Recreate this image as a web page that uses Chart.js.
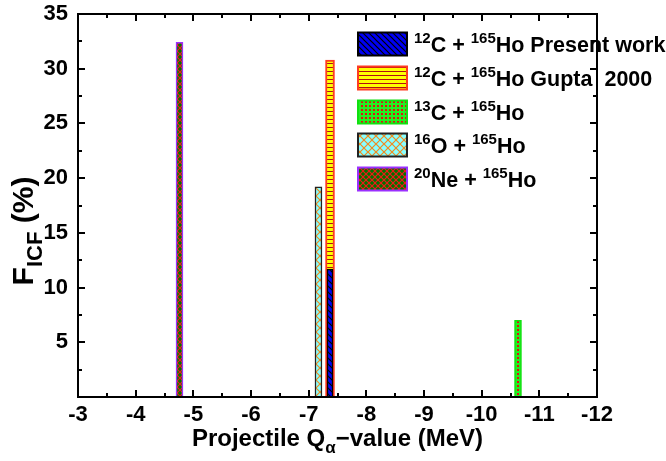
<!DOCTYPE html>
<html>
<head>
<meta charset="utf-8">
<script src="https://cdn.jsdelivr.net/npm/chart.js@4.4.0/dist/chart.umd.min.js"></script>
<style>
  html, body { margin: 0; padding: 0; background: #fff; }
  #wrap { width: 666px; height: 461px; }
</style>
</head>
<body>
<div id="wrap"><canvas id="chart" width="666" height="461"></canvas></div>
<script>
// projectile Q-alpha values (MeV) and incomplete fusion fractions (%)
var seriesLabels = [
    "^{12}C + ^{165}Ho Present work",
    "^{12}C + ^{165}Ho Gupta  2000",
    "^{13}C + ^{165}Ho",
    "^{16}O + ^{165}Ho",
    "^{20}Ne + ^{165}Ho"
];
var qValues = [-7.37, -7.37, -10.63, -7.17, -4.76];
var icfFractions = [11.7, 30.8, 7.0, 19.2, 32.4];
var xTicks = [-3, -4, -5, -6, -7, -8, -9, -10, -11, -12];
var yTicks = [5, 10, 15, 20, 25, 30, 35];

var FONT = '"Liberation Sans", Arial, sans-serif';

// small canvas patterns for the hatched bars
function makePattern(size, bg, paint) {
    var c = document.createElement("canvas");
    c.width = size;
    c.height = size;
    var g = c.getContext("2d");
    g.fillStyle = bg;
    g.fillRect(0, 0, size, size);
    paint(g, size);
    return g.createPattern(c, "repeat");
}

function diag(g, s, dir) {
    g.beginPath();
    if (dir > 0) {
        g.moveTo(-1, -1); g.lineTo(s + 1, s + 1);
        g.moveTo(-1, s - 1); g.lineTo(1, s + 1);
        g.moveTo(s - 1, -1); g.lineTo(s + 1, 1);
    } else {
        g.moveTo(-1, s + 1); g.lineTo(s + 1, -1);
        g.moveTo(-1, 1); g.lineTo(1, -1);
        g.moveTo(s - 1, s + 1); g.lineTo(s + 1, s - 1);
    }
    g.stroke();
}

var fills = [
    makePattern(6, "#0000f4", function (g, s) {
        g.strokeStyle = "#000"; g.lineWidth = 1.2; diag(g, s, 1);
    }),
    makePattern(4, "#ffff00", function (g, s) {
        g.fillStyle = "#b01010"; g.fillRect(0, 3, s, 1);
    }),
    makePattern(4, "#22ee22", function (g, s) {
        g.fillStyle = "#e01010"; g.fillRect(1, 1, 2, 2);
    }),
    makePattern(8, "#88ffff", function (g, s) {
        g.strokeStyle = "#f08a20"; g.lineWidth = 1.2; diag(g, s, 1); diag(g, s, -1);
    }),
    makePattern(6, "#007400", function (g, s) {
        g.strokeStyle = "#f01818"; g.lineWidth = 1.2; diag(g, s, 1); diag(g, s, -1);
    })
];
var borders = ["#000000", "#ff3b1f", "#10e010", "#222222", "#9b30ff"];
var borderWidths = [1.5, 2, 1.5, 1.5, 1.5];
var barWidths = [6, 9, 7, 7, 7];

var datasets = [];
for (var i = 0; i < seriesLabels.length; i++) {
    datasets.push({
        label: seriesLabels[i],
        data: [{ x: qValues[i], y: icfFractions[i] }],
        backgroundColor: fills[i],
        borderColor: borders[i],
        borderWidth: borderWidths[i],
        barThickness: barWidths[i],
        grouped: false
    });
}

// text with ^{sup} and _{sub} parts
function richParts(str) {
    var parts = [];
    var re = /([\^_])\{([^}]*)\}|([^\^_]+)/g;
    var m;
    while ((m = re.exec(str)) !== null) {
        if (m[1]) parts.push({ t: m[2], k: m[1] === "^" ? "sup" : "sub" });
        else parts.push({ t: m[3], k: "n" });
    }
    return parts;
}

function drawRich(ctx, str, x, y, size, align, ratio) {
    var parts = richParts(str);
    var total = 0;
    ratio = ratio || 0.68;
    parts.forEach(function (p) {
        p.fs = p.k === "n" ? size : Math.round(size * ratio);
        ctx.font = "bold " + p.fs + "px " + FONT;
        p.w = ctx.measureText(p.t).width;
        total += p.w;
    });
    if (align === "center") x -= total / 2;
    ctx.textBaseline = "alphabetic";
    ctx.textAlign = "left";
    parts.forEach(function (p) {
        var dy = p.k === "sup" ? -size * 0.42 : p.k === "sub" ? size * 0.3 : 0;
        ctx.font = "bold " + p.fs + "px " + FONT;
        ctx.fillText(p.t, x, y + dy);
        x += p.w;
    });
}

var framePlugin = {
    id: "frame",
    afterDraw: function (chart) {
        var ctx = chart.ctx;
        var a = chart.chartArea;
        var xs = chart.scales.x, ys = chart.scales.y;
        ctx.save();
        ctx.strokeStyle = "#000";
        ctx.lineWidth = 2;
        ctx.strokeRect(a.left, a.top, a.right - a.left, a.bottom - a.top);

        // inward ticks on all four sides, minors halfway
        ctx.beginPath();
        for (var v = -3; v >= -12; v -= 0.5) {
            var px = Math.round(xs.getPixelForValue(v));
            var len = (v % 1 === 0) ? 7 : 4;
            ctx.moveTo(px, a.bottom); ctx.lineTo(px, a.bottom - len);
            ctx.moveTo(px, a.top); ctx.lineTo(px, a.top + len);
        }
        for (var w = 0; w <= 35; w += 2.5) {
            var py = Math.round(ys.getPixelForValue(w));
            var l2 = (w % 5 === 0) ? 7 : 4;
            ctx.moveTo(a.left, py); ctx.lineTo(a.left + l2, py);
            ctx.moveTo(a.right, py); ctx.lineTo(a.right - l2, py);
        }
        ctx.stroke();

        // axis titles
        ctx.fillStyle = "#000";
        drawRich(ctx, "Projectile Q_{\u03b1}\u2212value (MeV)", (a.left + a.right) / 2, 446, 24, "center", 0.72);
        ctx.save();
        ctx.translate(33, 231);
        ctx.rotate(-Math.PI / 2);
        drawRich(ctx, "F_{ICF} (%)", 0, 0, 30, "center", 0.74);
        ctx.restore();

        // legend
        var rowY = [44, 78, 112, 145, 179];
        for (var i = 0; i < seriesLabels.length; i++) {
            var by = rowY[i] - 11.5;
            ctx.fillStyle = fills[i];
            ctx.fillRect(358, by, 49, 23);
            ctx.strokeStyle = borders[i];
            ctx.lineWidth = 2;
            ctx.strokeRect(358, by, 49, 23);
            ctx.fillStyle = "#000";
            drawRich(ctx, seriesLabels[i], 414, rowY[i] + 8, 21.5, "left", 0.7);
        }
        ctx.restore();
    }
};

var tickFont = { family: FONT, size: 22, weight: "bold" };

new Chart(document.getElementById("chart").getContext("2d"), {
    type: "bar",
    data: { datasets: datasets },
    options: {
        responsive: false,
        animation: false,
        layout: { padding: { top: 14, right: 69, left: 0, bottom: 0 } },
        plugins: {
            legend: { display: false },
            tooltip: { enabled: false }
        },
        scales: {
            x: {
                type: "linear",
                min: -12,
                max: -3,
                reverse: true,
                offset: false,
                grid: { display: false, drawTicks: false, offset: false },
                border: { display: false },
                afterBuildTicks: function (s) {
                    s.ticks = xTicks.map(function (v) { return { value: v }; });
                },
                ticks: { font: tickFont, color: "#000", padding: 5, maxRotation: 0, autoSkip: false },
                afterFit: function (s) {
                    s.height = 64;
                    s.paddingLeft = 0;
                    s.paddingRight = 0;
                }
            },
            y: {
                min: 0,
                max: 35,
                grid: { display: false, drawTicks: false },
                border: { display: false },
                afterBuildTicks: function (s) {
                    s.ticks = yTicks.map(function (v) { return { value: v }; });
                },
                ticks: { font: tickFont, color: "#000", padding: 10 },
                afterFit: function (s) {
                    s.width = 78;
                    s.paddingTop = 0;
                    s.paddingBottom = 0;
                }
            }
        }
    },
    plugins: [framePlugin]
});
</script>
</body>
</html>
